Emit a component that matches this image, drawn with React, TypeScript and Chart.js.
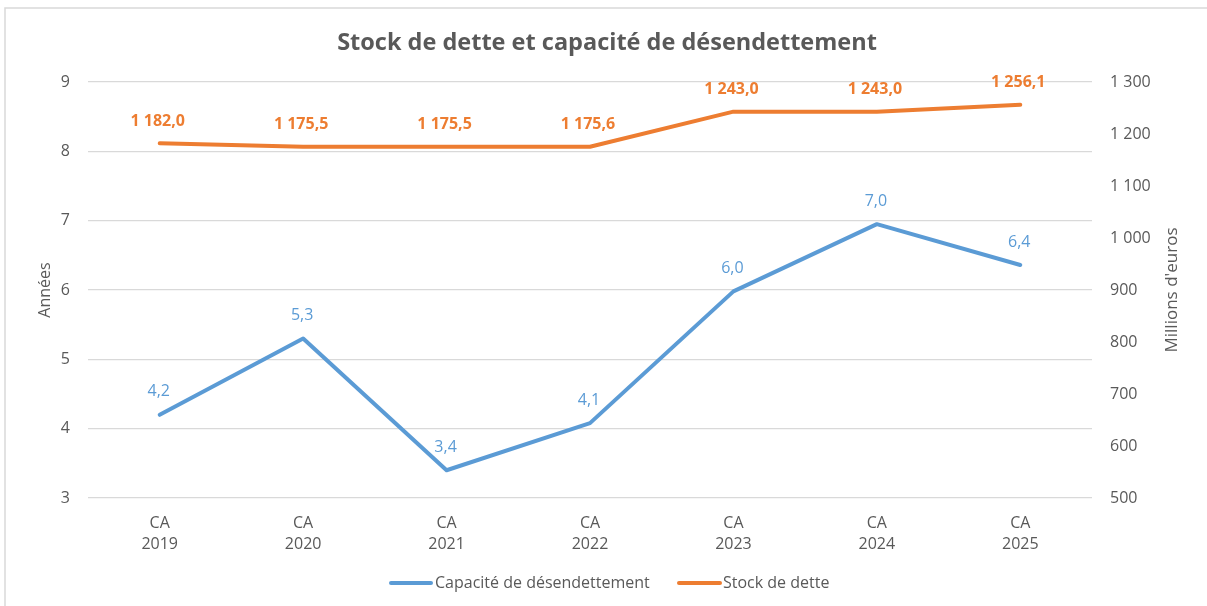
import React, { useEffect, useRef } from "react";
import { Chart, registerables } from "chart.js";

Chart.register(...registerables);

const categories: string[][] = [
  ["CA", "2019"],
  ["CA", "2020"],
  ["CA", "2021"],
  ["CA", "2022"],
  ["CA", "2023"],
  ["CA", "2024"],
  ["CA", "2025"],
];
const capacite: number[] = [4.2, 5.3, 3.4, 4.08, 5.98, 6.95, 6.36];
const stock: number[] = [1182.0, 1175.5, 1175.5, 1175.6, 1243.0, 1243.0, 1256.1];

const TITLE = "Stock de dette et capacité de désendettement";
const LEFT_TITLE = "Années";
const RIGHT_TITLE = "Millions d'euros";
const SERIES_NAMES = ["Capacité de désendettement", "Stock de dette"];

const BLUE = "#5B9BD5";
const ORANGE = "#ED7D31";
const TEXT = "#595959";
const GRID = "#D9D9D9";
const FONT = "'Open Sans', sans-serif";

function fmtThousands(v: number, decimals: number): string {
  const s = v.toFixed(decimals);
  const [intPart, dec] = s.split(".");
  const withSep = intPart.replace(/\B(?=(\d{3})+(?!\d))/g, " ");
  return dec !== undefined ? withSep + "," + dec : withSep;
}

const decorPlugin = {
  id: "decor",
  beforeDraw(chart: any) {
    const ctx = chart.ctx;
    ctx.save();
    ctx.fillStyle = "#ffffff";
    ctx.fillRect(0, 0, chart.width, chart.height);
    ctx.strokeStyle = GRID;
    ctx.lineWidth = 1.5;
    ctx.strokeRect(5, 8, chart.width + 20, chart.height + 20);
    ctx.restore();
  },
  afterDraw(chart: any) {
    const ctx = chart.ctx;
    const area = chart.chartArea;
    ctx.save();
    // title
    ctx.fillStyle = TEXT;
    ctx.font = `bold 23.5px ${FONT}`;
    ctx.textAlign = "center";
    ctx.textBaseline = "middle";
    ctx.fillText(TITLE, 607, 43);

    // axis titles
    const midY = (area.top + area.bottom) / 2;
    ctx.save();
    ctx.font = `16px ${FONT}`;
    ctx.translate(45, midY);
    ctx.rotate(-Math.PI / 2);
    ctx.fillText(LEFT_TITLE, 0, 0);
    ctx.restore();
    ctx.save();
    ctx.font = `17px ${FONT}`;
    ctx.translate(1172, midY);
    ctx.rotate(-Math.PI / 2);
    ctx.fillText(RIGHT_TITLE, 0, 0);
    ctx.restore();

    // data labels
    chart.data.datasets.forEach((ds: any, i: number) => {
      const meta = chart.getDatasetMeta(i);
      meta.data.forEach((pt: any, j: number) => {
        const v = ds.data[j];
        if (i === 0) {
          ctx.font = `16px ${FONT}`;
          ctx.fillStyle = BLUE;
          ctx.fillText(fmtThousands(v, 1), pt.x - 1, pt.y - 23);
        } else {
          ctx.font = `bold 16px ${FONT}`;
          ctx.fillStyle = ORANGE;
          ctx.fillText(fmtThousands(v, 1), pt.x - 2, pt.y - 22);
        }
      });
    });

    // legend
    const ly = 583;
    ctx.lineWidth = 4;
    ctx.lineCap = "round";
    ctx.font = `16px ${FONT}`;
    ctx.textAlign = "left";
    ctx.fillStyle = TEXT;
    ctx.strokeStyle = BLUE;
    ctx.beginPath();
    ctx.moveTo(391, ly);
    ctx.lineTo(431, ly);
    ctx.stroke();
    ctx.fillText(SERIES_NAMES[0], 435, ly);
    ctx.strokeStyle = ORANGE;
    ctx.beginPath();
    ctx.moveTo(679, ly);
    ctx.lineTo(720, ly);
    ctx.stroke();
    ctx.fillText(SERIES_NAMES[1], 723, ly);
    ctx.restore();
  },
};

export default function App() {
  const ref = useRef<HTMLCanvasElement | null>(null);
  useEffect(() => {
    if (!ref.current) return;
    const chart = new Chart(ref.current, {
      type: "line",
      data: {
        labels: categories,
        datasets: [
          {
            label: SERIES_NAMES[0],
            data: capacite,
            borderColor: BLUE,
            backgroundColor: BLUE,
            borderWidth: 4,
            pointRadius: 0,
            tension: 0,
            borderCapStyle: "round",
            borderJoinStyle: "round",
            yAxisID: "y",
          },
          {
            label: SERIES_NAMES[1],
            data: stock,
            borderColor: ORANGE,
            backgroundColor: ORANGE,
            borderWidth: 4,
            pointRadius: 0,
            tension: 0,
            borderCapStyle: "round",
            borderJoinStyle: "round",
            yAxisID: "y1",
          },
        ],
      },
      options: {
        responsive: false,
        animation: false,
        layout: { padding: { top: 82, left: 0, right: 0, bottom: 0 } },
        plugins: {
          legend: { display: false },
          title: { display: false },
          tooltip: { enabled: false },
        },
        scales: {
          x: {
            type: "category",
            offset: true,
            grid: { display: false, drawTicks: false },
            border: { display: false },
            ticks: {
              color: TEXT,
              font: { family: FONT, size: 16, lineHeight: 1.33 },
              padding: 15,
              maxRotation: 0,
              autoSkip: false,
            },
            afterFit: (s: any) => {
              s.height = 108;
            },
          },
          y: {
            position: "left",
            min: 3,
            max: 9,
            grid: { color: GRID, lineWidth: 1.3, drawTicks: false },
            border: { display: false },
            ticks: {
              stepSize: 1,
              color: TEXT,
              font: { family: FONT, size: 16 },
              padding: 18,
            },
            afterFit: (s: any) => {
              s.width = 88;
            },
          },
          y1: {
            position: "right",
            min: 500,
            max: 1300,
            grid: { display: false, drawTicks: false },
            border: { display: false },
            ticks: {
              stepSize: 100,
              color: TEXT,
              font: { family: FONT, size: 16 },
              padding: 18,
              callback: (v: any) => fmtThousands(Number(v), 0),
            },
            afterFit: (s: any) => {
              s.width = 115;
            },
          },
        },
      } as any,
      plugins: [decorPlugin],
    });
    return () => chart.destroy();
  }, []);
  return (
    <div style={{ position: "fixed", left: 0, top: 0, width: 1207, height: 606 }}>
      <canvas ref={ref} width={1207} height={606} style={{ width: 1207, height: 606 }} />
    </div>
  );
}
